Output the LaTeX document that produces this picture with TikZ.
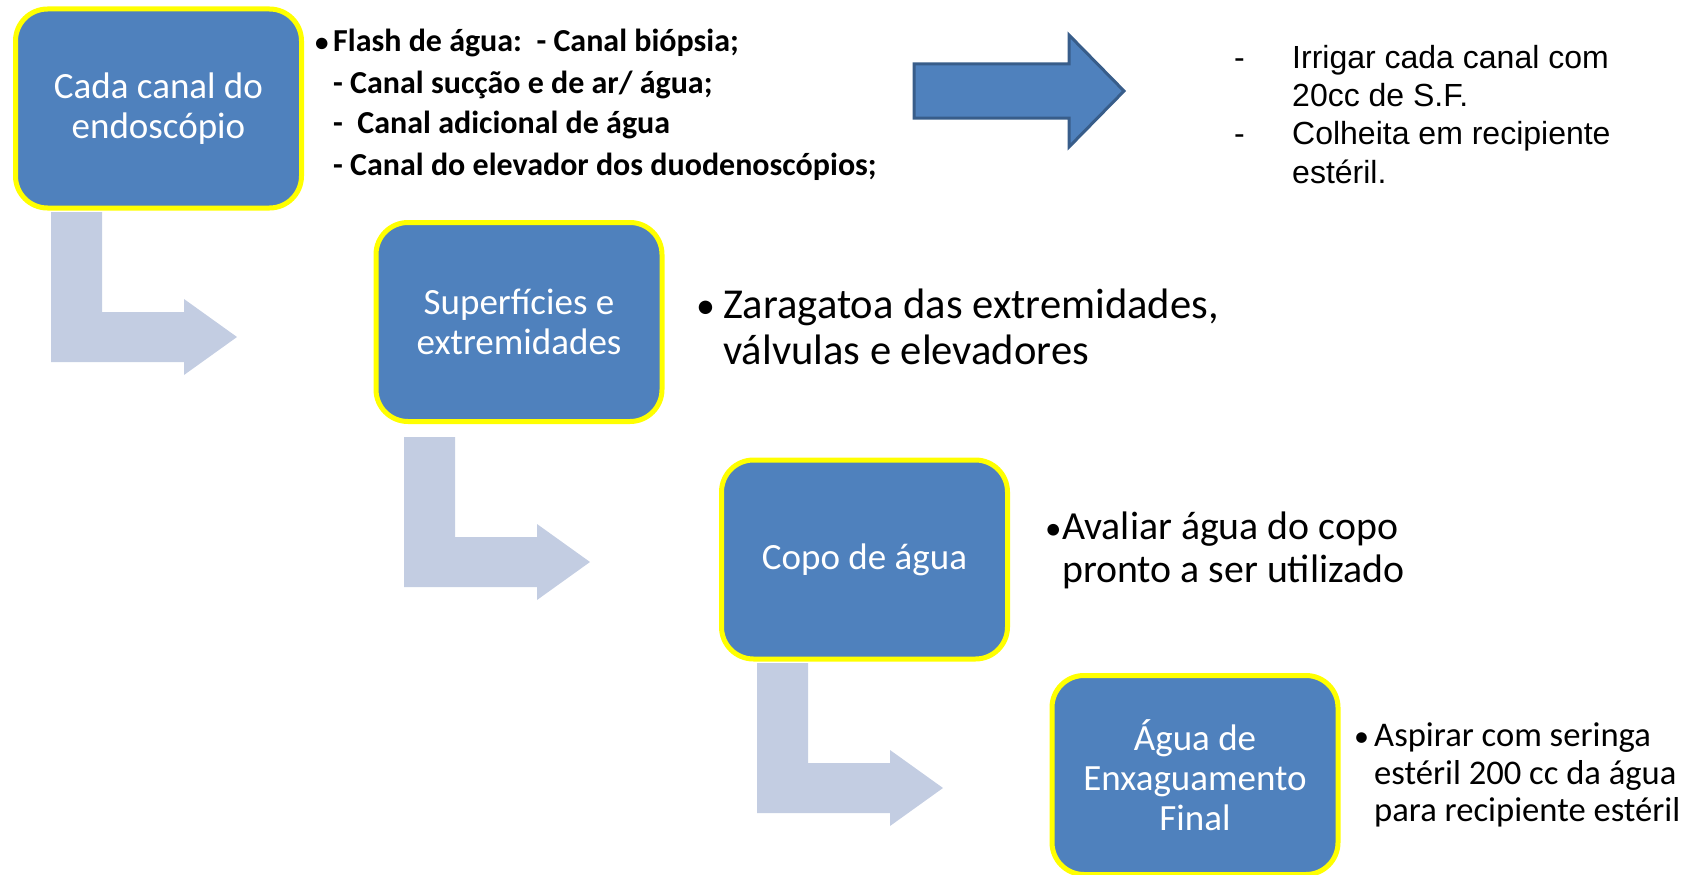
\documentclass[tikz,border=0pt]{standalone}
\usepackage{fontspec}
\setmainfont{Carlito}
\newfontfamily\arialfont{Liberation Sans}
\definecolor{boxblue}{HTML}{4F81BD}
\definecolor{arrowedge}{HTML}{385D8A}
\definecolor{lblue}{RGB}{195,205,226}
\definecolor{yel}{HTML}{FFFF00}
\begin{document}
\begin{tikzpicture}[x=1pt,y=-1pt,
  stepbox/.style={draw=yel, line width=5pt, fill=boxblue, rounded corners=32pt,
    minimum width=286pt, minimum height=199pt, text=white, align=center,
    inner sep=0pt, font=\fontsize{37}{40}\selectfont},
  txt/.style={anchor=base west, inner sep=0pt, text=black},
  larrow/.pic={\fill[lblue] (0,0) -- (51,0) -- (51,100) -- (133,100) -- (133,87)
     -- (186,125) -- (133,163) -- (133,150) -- (0,150) -- cycle;},
  bigarrow/.style={fill=boxblue, draw=arrowedge, line width=3pt, line join=miter}
]
\useasboundingbox (0,0) rectangle (1697,875);

% L-shaped light arrows
\pic at (51,212) {larrow};
\pic at (404,437) {larrow};
\pic at (757,663) {larrow};

% boxes
\node[stepbox] (b1) at (158.5,108.5) {Cada canal do\\endosc\'opio};
\node[stepbox] (b2) at (519,322) {Superf\'icies e\\extremidades};
\node[stepbox] (b3) at (864.5,559.5) {Copo de \'agua};
\node[stepbox] (b4) at (1195,775) {\'Agua de\\Enxaguamento\\Final};

% big blue arrow
\draw[bigarrow] (914,64) -- (1069,64) -- (1069,35) -- (1124,91) -- (1069,147)
  -- (1069,118) -- (914,118) -- cycle;

% top-left bold list
\begin{scope}[every node/.style={txt, font=\bfseries\fontsize{32}{37}\selectfont}]
\node (f1) at (315,52) {\makebox[18pt][l]{\fontsize{27}{27}\selectfont•}Flash de água:\ \ - Canal biópsia;};
\node (f2) at (333,93) {- Canal sucção e de ar/ água;};
\node (f3) at (333,133) {-\ \ Canal adicional de água};
\node (f4) at (333,175) {- Canal do elevador dos duodenoscópios;};
\end{scope}

% right Arial text
\begin{scope}[every node/.style={txt, font=\arialfont\fontsize{32}{38}\selectfont}]
\node (r1) at (1234,68) {\makebox[58pt][l]{-}Irrigar cada canal com};
\node (r2) at (1292,106) {20cc de S.F.};
\node (r3) at (1234,144.5) {\makebox[58pt][l]{-}Colheita em recipiente};
\node (r4) at (1292,183) {estéril.};
\end{scope}

% Zaragatoa
\begin{scope}[every node/.style={txt, font=\fontsize{42.6}{46}\selectfont}]
\node (z1) at (696,318) {\makebox[27pt][l]{\fontsize{38}{38}\selectfont•}Zaragatoa das extremidades,};
\node (z2) at (723,364) {válvulas e elevadores};
\end{scope}

% Avaliar
\begin{scope}[every node/.style={txt, font=\fontsize{39.8}{43}\selectfont}]
\node (a1) at (1045,539) {\makebox[17pt][l]{\fontsize{33}{33}\selectfont•}Avaliar água do copo};
\node (a2) at (1062,582) {pronto a ser utilizado};
\end{scope}

% Aspirar
\begin{scope}[every node/.style={txt, font=\fontsize{34.6}{38}\selectfont}]
\node (s1) at (1354,746) {\makebox[20pt][l]{\fontsize{30}{30}\selectfont•}Aspirar com seringa};
\node (s2) at (1374,784) {estéril 200 cc da água};
\node (s3) at (1374,821) {para recipiente estéril};
\end{scope}
\end{tikzpicture}
\end{document}
